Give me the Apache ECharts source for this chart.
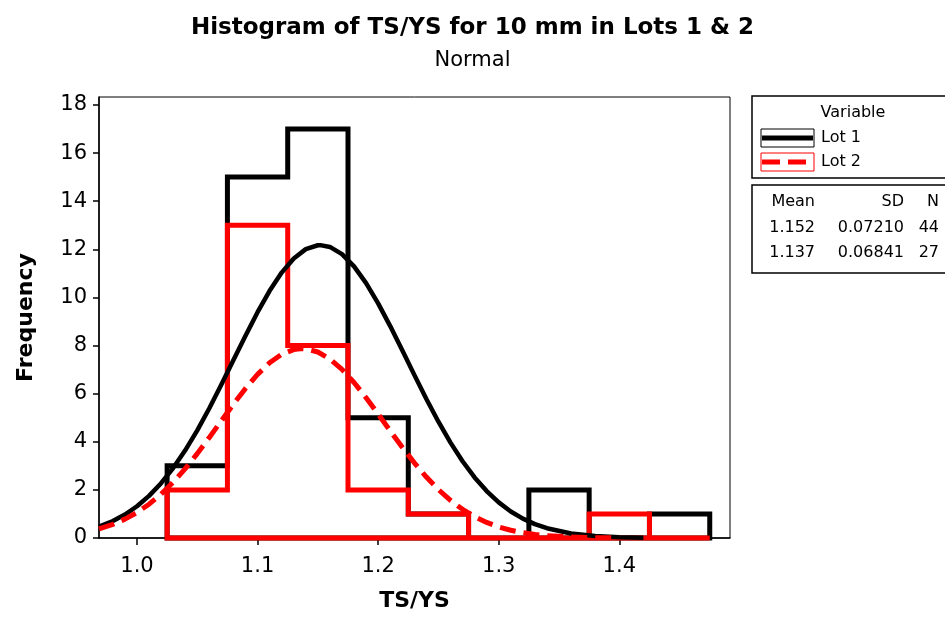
<!DOCTYPE html>
<html>
<head>
<meta charset="utf-8">
<script src="https://cdn.jsdelivr.net/npm/echarts@6.0.0/dist/echarts.min.js"></script>
<style>
html,body{margin:0;padding:0;background:#fff;}
#chart{width:945px;height:617px;}
</style>
</head>
<body>
<div id="chart"></div>
<script>
// ---- data ----
const lotNames = ['Lot 1', 'Lot 2'];
const binStarts = [1.025, 1.075, 1.125, 1.175, 1.225, 1.275, 1.325, 1.375, 1.425];
const binWidth = 0.05;
const lot1Counts = [3, 15, 17, 5, 1, 0, 2, 0, 1];
const lot2Counts = [2, 13, 8, 2, 1, 0, 0, 1, 0];
const fit1X = [0.9685, 0.98, 0.99, 1.00, 1.01, 1.02, 1.03, 1.04, 1.05, 1.06, 1.07, 1.08, 1.09, 1.10,
               1.11, 1.12, 1.13, 1.14, 1.15, 1.152, 1.16, 1.17, 1.18, 1.19, 1.20, 1.21, 1.22, 1.23,
               1.24, 1.25, 1.26, 1.27, 1.28, 1.29, 1.30, 1.31, 1.32, 1.33, 1.34, 1.36, 1.38, 1.40, 1.42];
const lot1Fit = [0.477, 0.707, 0.975, 1.319, 1.750, 2.278, 2.908, 3.643, 4.475, 5.393, 6.376, 7.394, 8.411, 9.385,
                 10.273, 11.031, 11.619, 12.006, 12.168, 12.173, 12.098, 11.800, 11.289, 10.594, 9.753, 8.808, 7.802, 6.780,
                 5.779, 4.833, 3.964, 3.190, 2.518, 1.949, 1.481, 1.103, 0.806, 0.578, 0.406, 0.190, 0.082, 0.033, 0.012];
const fit2X = [0.9685, 0.98, 0.99, 1.00, 1.01, 1.02, 1.03, 1.04, 1.05, 1.06, 1.07, 1.08, 1.09, 1.10,
               1.11, 1.12, 1.13, 1.137, 1.14, 1.15, 1.16, 1.17, 1.18, 1.19, 1.20, 1.21, 1.22, 1.23,
               1.24, 1.25, 1.26, 1.27, 1.28, 1.29, 1.30, 1.31, 1.32, 1.33, 1.34, 1.36, 1.38, 1.40];
const lot2Fit = [0.379, 0.566, 0.783, 1.060, 1.405, 1.824, 2.317, 2.881, 3.507, 4.179, 4.874, 5.564, 6.218, 6.802,
                 7.283, 7.634, 7.832, 7.873, 7.865, 7.732, 7.440, 7.008, 6.462, 5.832, 5.152, 4.455, 3.771, 3.125,
                 2.534, 2.012, 1.564, 1.190, 0.886, 0.646, 0.461, 0.322, 0.220, 0.147, 0.096, 0.039, 0.014, 0.005];
const statHeaders = ['Mean', 'SD', 'N'];
const means = ['1.152', '1.137'];
const sds = ['0.07210', '0.06841'];
const ns = ['44', '27'];
const xTicks = [1.0, 1.1, 1.2, 1.3, 1.4];
const yTicks = [0, 2, 4, 6, 8, 10, 12, 14, 16, 18];
const colors = ['#000000', '#ff0000'];

// ---- chart ----
const FONT = 'DejaVu Sans';
const chart = echarts.init(document.getElementById('chart'), null, {renderer: 'canvas'});

function histSeries(counts, color, z) {
  return {
    type: 'custom',
    coordinateSystem: 'cartesian2d',
    clip: false,
    z: z,
    silent: true,
    data: [[binStarts[0], 0]],
    encode: {x: 0, y: 1},
    renderItem: function (params, api) {
      const pts = [];
      pts.push(api.coord([binStarts[0], 0]));
      for (let i = 0; i < counts.length; i++) {
        const l = binStarts[i], r = binStarts[i] + binWidth;
        pts.push(api.coord([l, counts[i]]));
        pts.push(api.coord([r, counts[i]]));
      }
      pts.push(api.coord([binStarts[binStarts.length - 1] + binWidth, 0]));
      return {
        type: 'polygon',
        shape: {points: pts},
        style: {fill: 'transparent', stroke: color, lineWidth: 5, lineJoin: 'miter'}
      };
    }
  };
}

const txt = (x, y, text, align) => ({
  type: 'text', x: x, y: y, z: 11,
  style: {text: text, fontFamily: FONT, fontSize: 16, fill: '#000', align: align, verticalAlign: 'middle'}
});

const option = {
  backgroundColor: '#ffffff',
  animation: false,
  title: [
    {text: 'Histogram of TS/YS for 10 mm in Lots 1 & 2', left: 'center', top: 12,
     textStyle: {fontFamily: FONT, fontSize: 23, fontWeight: 'bold', color: '#000'}},
    {text: 'Normal', left: 'center', top: 45,
     textStyle: {fontFamily: FONT, fontSize: 21, fontWeight: 'normal', color: '#000'}}
  ],
  grid: {left: 99, top: 97, right: 215, bottom: 78.5, show: true, borderColor: '#000', borderWidth: 1, backgroundColor: 'transparent'},
  xAxis: {
    type: 'value', min: 0.9685, max: 1.4918,
    name: 'TS/YS', nameLocation: 'middle', nameGap: 52,
    nameTextStyle: {fontFamily: FONT, fontSize: 22, fontWeight: 'bold', color: '#000'},
    axisLine: {show: true, onZero: false, lineStyle: {color: '#000', width: 1.5}},
    axisTick: {show: true, length: 7, customValues: xTicks, lineStyle: {color: '#000', width: 1.5}},
    axisLabel: {customValues: xTicks, formatter: v => v.toFixed(1), fontFamily: FONT, fontSize: 21, color: '#000', margin: 18},
    splitLine: {show: false}
  },
  yAxis: {
    type: 'value', min: 0, max: 18.33,
    name: 'Frequency', nameLocation: 'middle', nameGap: 62,
    nameTextStyle: {fontFamily: FONT, fontSize: 22, fontWeight: 'bold', color: '#000'},
    axisLine: {show: true, onZero: false, lineStyle: {color: '#000', width: 1.5}},
    axisTick: {show: true, length: 6, customValues: yTicks, lineStyle: {color: '#000', width: 1.5}},
    axisLabel: {customValues: yTicks, fontFamily: FONT, fontSize: 21, color: '#000', margin: 12},
    splitLine: {show: false}
  },
  series: [
    histSeries(lot1Counts, colors[0], 2),
    histSeries(lot2Counts, colors[1], 3),
    {
      name: lotNames[0], type: 'line', z: 4, silent: true, symbol: 'none', smooth: false, clip: true,
      data: fit1X.map((x, i) => [x, lot1Fit[i]]),
      lineStyle: {color: colors[0], width: 4.5, join: 'round'}
    },
    {
      name: lotNames[1], type: 'line', z: 5, silent: true, symbol: 'none', smooth: false, clip: true,
      data: fit2X.map((x, i) => [x, lot2Fit[i]]),
      lineStyle: {color: colors[1], width: 5, type: [16, 8], join: 'round'}
    }
  ],
  graphic: [
    // legend box
    {type: 'rect', shape: {x: 752, y: 96, width: 230, height: 82}, style: {fill: '#fff', stroke: '#000', lineWidth: 1.5}, z: 10},
    txt(853, 113, 'Variable', 'center'),
    {type: 'rect', shape: {x: 761, y: 129, width: 53, height: 18}, style: {fill: 'transparent', stroke: '#000', lineWidth: 1}, z: 11},
    {type: 'line', shape: {x1: 762, y1: 138, x2: 813, y2: 138}, style: {stroke: colors[0], lineWidth: 5}, z: 11},
    txt(821, 138, lotNames[0], 'left'),
    {type: 'rect', shape: {x: 761, y: 153, width: 53, height: 18}, style: {fill: 'transparent', stroke: colors[1], lineWidth: 1}, z: 11},
    {type: 'line', shape: {x1: 762, y1: 162, x2: 813, y2: 162}, style: {stroke: colors[1], lineWidth: 5, lineDash: [18, 8]}, z: 11},
    txt(821, 162, lotNames[1], 'left'),
    // stats box
    {type: 'rect', shape: {x: 752, y: 185, width: 230, height: 88}, style: {fill: '#fff', stroke: '#000', lineWidth: 1.5}, z: 10},
    txt(815, 202, statHeaders[0], 'right'),
    txt(904, 202, statHeaders[1], 'right'),
    txt(939, 202, statHeaders[2], 'right')
  ].concat(
    [0, 1].flatMap(r => [
      txt(815, 228 + r * 25, means[r], 'right'),
      txt(904, 228 + r * 25, sds[r], 'right'),
      txt(939, 228 + r * 25, ns[r], 'right')
    ])
  )
};
chart.setOption(option);
</script>
</body>
</html>
